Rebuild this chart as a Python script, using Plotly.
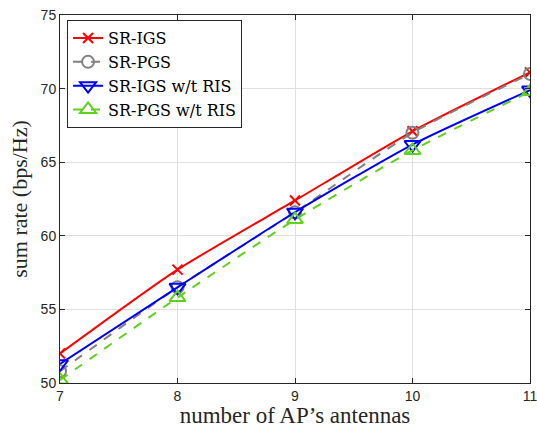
import plotly.graph_objects as go

antennas = [7, 8, 9, 10, 11]
sr_igs = [52.0, 57.7, 62.4, 67.1, 71.1]
sr_pgs = [50.8, 56.5, 61.6, 67.0, 71.0]
sr_igs_noris = [51.3, 56.5, 61.6, 66.2, 69.9]
sr_pgs_noris = [50.2, 55.8, 61.1, 65.8, 69.8]

fig = go.Figure()
series = [
    ("SR-IGS", sr_igs, "#ff0000", "solid", "x-thin-open", 10),
    ("SR-PGS", sr_pgs, "#808080", "dash", "circle-open", 12),
    ("SR-IGS w/t RIS", sr_igs_noris, "#0000ff", "solid", "triangle-down-open", 14),
    ("SR-PGS w/t RIS", sr_pgs_noris, "#5fd11a", "dash", "triangle-up-open", 14),
]
for name, ys, col, dash, sym, sz in series:
    fig.add_trace(go.Scatter(
        x=antennas, y=ys, name=name, mode="lines+markers",
        line=dict(color=col, width=2, dash=dash, shape="spline", smoothing=0.6),
        marker=dict(symbol=sym, size=sz, color=col, line=dict(color=col, width=2)),
    ))

axis_common = dict(
    showline=True, linecolor="#262626", linewidth=1, mirror="ticks",
    ticks="inside", ticklen=5, tickcolor="#262626",
    showgrid=True, gridcolor="#e0e0e0", gridwidth=1, zeroline=False,
    ticklabeloverflow="allow",
    tickfont=dict(family="Liberation Sans, Arial", size=14, color="#262626"),
)
fig.update_xaxes(range=[7, 11], dtick=1, **axis_common,
                 title=dict(text="number of AP\u2019s antennas", standoff=1,
                            font=dict(family="Liberation Serif, Times New Roman", size=23, color="#262626")))
fig.update_yaxes(range=[50, 75], dtick=5, **axis_common,
                 title=dict(text="sum rate (bps/Hz)", standoff=6,
                            font=dict(family="Liberation Serif, Times New Roman", size=22, color="#262626")))
fig.update_layout(
    width=537, height=428,
    margin=dict(l=60, r=7, t=15, b=45, autoexpand=False),
    paper_bgcolor="white", plot_bgcolor="white",
    legend=dict(x=0.015, y=0.986, xanchor="left", yanchor="top",
                bgcolor="white", bordercolor="#262626", borderwidth=1,
                font=dict(family="DejaVu Serif", size=16, color="#000"),
                tracegroupgap=0, itemwidth=30),
    showlegend=True,
)
fig.write_html("out.html", config={"displayModeBar": False},
               post_script="document.body.style.margin='0';document.body.style.overflow='hidden';")
